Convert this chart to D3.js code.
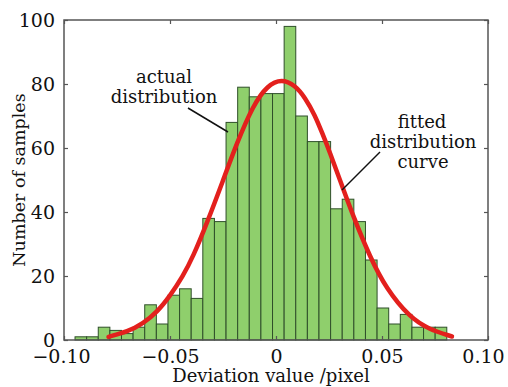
<!DOCTYPE html>
<html>
<head>
<meta charset="utf-8">
<script src="https://cdn.jsdelivr.net/npm/d3@7"></script>
<style>
  html, body { margin: 0; padding: 0; background: #fff; }
  svg { display: block; }
  text { font-family: "DejaVu Serif", "Liberation Serif", serif; fill: #111; }
</style>
</head>
<body>
<svg id="chart" width="508" height="387"></svg>
<script>
// Histogram of deviation values (pixel) with fitted normal curve
const binStart = -0.0948;
const binWidth = 0.00548;
const counts = [1, 1, 4, 3, 2, 4, 11, 5, 14, 16, 13, 38, 37, 68, 79, 76,
                77, 77, 98, 70, 62, 62, 41, 44, 37, 25, 10, 5, 8, 4, 4, 4];

// Fitted distribution curve, sampled points
const curveX = [-0.079, -0.070, -0.0626, -0.056, -0.050, -0.044, -0.039, -0.0327,
                -0.0249, -0.0185, -0.0107, -0.004, 0.0027, 0.009, 0.0137, 0.0184,
                0.0216, 0.0255, 0.030, 0.0365, 0.0443, 0.052, 0.0632, 0.072, 0.083];
const curveY = [1.0, 2.6, 5.2, 8.8, 13.8, 19.8, 26.2, 36.3,
                50, 61.5, 73.5, 79.6, 81.6, 79.6, 75.8, 70.2,
                65, 58.5, 50.3, 38.5, 26, 16, 7, 3.4, 1.1];

const xTicks = [-0.10, -0.05, 0, 0.05, 0.10];
const xTickLabels = ["\u22120.10", "\u22120.05", "0", "0.05", "0.10"];
const yTicks = [0, 20, 40, 60, 80, 100];

const svg = d3.select("#chart");
const plotL = 64, plotR = 488, plotT = 20, plotB = 340;

const x = d3.scaleLinear().domain([-0.10, 0.10]).range([plotL, plotR]);
const y = d3.scaleLinear().domain([0, 100]).range([plotB, plotT]);

// bars
svg.append("g").selectAll("rect")
  .data(counts)
  .join("rect")
  .attr("x", (d, i) => x(binStart + i * binWidth))
  .attr("y", d => y(d))
  .attr("width", (d, i) => x(binStart + (i + 1) * binWidth) - x(binStart + i * binWidth))
  .attr("height", d => y(0) - y(d))
  .attr("fill", "#8fcf6c")
  .attr("stroke", "#2f4f2a")
  .attr("stroke-width", 1);

// fitted curve
const pts = curveX.map((v, i) => [v, curveY[i]]);
svg.append("path")
  .datum(pts)
  .attr("fill", "none")
  .attr("stroke", "#e3201d")
  .attr("stroke-width", 4.5)
  .attr("stroke-linecap", "round")
  .attr("d", d3.line().x(d => x(d[0])).y(d => y(d[1])).curve(d3.curveBasis));

// axes with inward ticks
const tickLen = 4;
const gx = svg.append("g").attr("transform", `translate(0,${plotB})`)
  .call(d3.axisBottom(x).tickValues(xTicks).tickSize(-tickLen).tickPadding(0)
    .tickFormat((d, i) => xTickLabels[i]));
const gy = svg.append("g").attr("transform", `translate(${plotL},0)`)
  .call(d3.axisLeft(y).tickValues(yTicks).tickSize(-tickLen).tickPadding(9));
const gt = svg.append("g").attr("transform", `translate(0,${plotT})`)
  .call(d3.axisTop(x).tickValues(xTicks).tickSize(-tickLen).tickFormat(""));
const gr = svg.append("g").attr("transform", `translate(${plotR},0)`)
  .call(d3.axisRight(y).tickValues(yTicks).tickSize(-tickLen).tickFormat(""));

[gx, gy, gt, gr].forEach(g => {
  g.select(".domain").remove();
  g.selectAll(".tick line").attr("stroke", "#555").attr("stroke-width", 1.2);
  g.selectAll(".tick text").attr("font-family", "Liberation Serif, serif")
    .attr("font-size", 19).attr("fill", "#111");
});
gx.selectAll(".tick text").attr("y", 23).attr("dy", null);
gx.selectAll(".tick").filter(d => d === -0.10).select("text").attr("dx", -3);
gx.selectAll(".tick").filter(d => d === 0.10).select("text").attr("dx", -5);

// frame
svg.append("rect")
  .attr("x", plotL).attr("y", plotT)
  .attr("width", plotR - plotL).attr("height", plotB - plotT)
  .attr("fill", "none").attr("stroke", "#555").attr("stroke-width", 1.5);

// axis titles
svg.append("text")
  .attr("x", 271).attr("y", 382)
  .attr("text-anchor", "middle").attr("font-size", 18)
  .text("Deviation value /pixel");
svg.append("text")
  .attr("transform", "translate(25,180) rotate(-90)")
  .attr("text-anchor", "middle").attr("font-size", 17.5)
  .text("Number of samples");

// annotations
const ann = svg.append("g").attr("font-size", 18).attr("text-anchor", "middle");
ann.append("text").attr("x", 164).attr("y", 83).text("actual");
ann.append("text").attr("x", 164).attr("y", 103).text("distribution");
ann.append("text").attr("x", 422).attr("y", 128).text("fitted");
ann.append("text").attr("x", 423).attr("y", 148).text("distribution");
ann.append("text").attr("x", 423).attr("y", 168).text("curve");

svg.append("line").attr("x1", 188).attr("y1", 108).attr("x2", 228).attr("y2", 132)
  .attr("stroke", "#111").attr("stroke-width", 1.5);
svg.append("line").attr("x1", 380).attr("y1", 152).attr("x2", 342).attr("y2", 190)
  .attr("stroke", "#111").attr("stroke-width", 1.5);
</script>
</body>
</html>
